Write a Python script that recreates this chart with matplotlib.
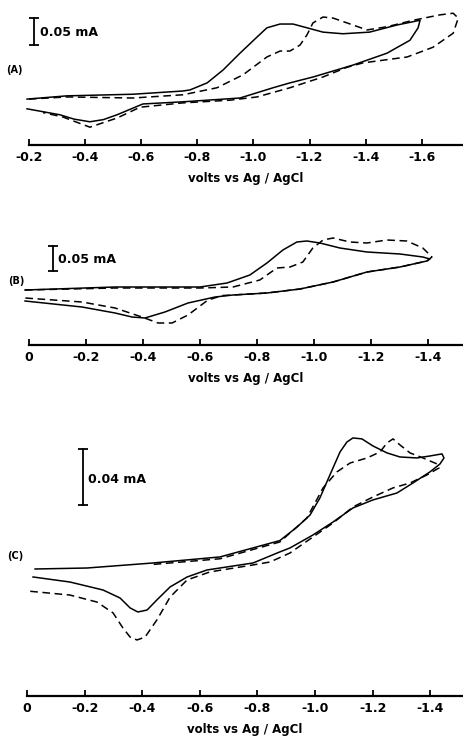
import numpy as np
import matplotlib
matplotlib.use("Agg")
import matplotlib.pyplot as plt

# ---- data (volts, mA above the axis line) ----
# panel A
a_solid_v = [-0.193, -0.335, -0.57, -0.749, -0.774, -0.835, -0.892, -0.952, -1.013, -1.048,
             -1.095, -1.141, -1.191, -1.248, -1.319, -1.414, -1.51, -1.594, -1.587, -1.558,
             -1.476, -1.355, -1.213, -1.13, -1.07, -0.952, -0.749, -0.606, -0.56, -0.514,
             -0.465, -0.417, -0.36, -0.31, -0.193]
a_solid_i = [0.085, 0.091, 0.094, 0.100, 0.102, 0.115, 0.139, 0.170, 0.200, 0.217,
             0.224, 0.224, 0.217, 0.209, 0.206, 0.209, 0.222, 0.231, 0.217, 0.194,
             0.170, 0.148, 0.126, 0.115, 0.106, 0.087, 0.080, 0.076, 0.066, 0.056,
             0.047, 0.043, 0.048, 0.056, 0.067]
a_dash_v = [-0.2, -0.335, -0.57, -0.749, -0.87, -0.963, -1.048, -1.095, -1.13, -1.166,
            -1.191, -1.212, -1.248, -1.284, -1.334, -1.405, -1.476, -1.57, -1.665, -1.712,
            -1.73, -1.712, -1.64, -1.548, -1.39, -1.334, -1.248, -1.13, -1.013, -0.917,
            -0.749, -0.596, -0.514, -0.417, -0.32, -0.25]
a_dash_i = [0.085, 0.089, 0.087, 0.093, 0.106, 0.130, 0.163, 0.174, 0.174, 0.185,
            0.204, 0.226, 0.237, 0.235, 0.226, 0.213, 0.219, 0.231, 0.241, 0.244,
            0.235, 0.207, 0.181, 0.163, 0.152, 0.144, 0.126, 0.106, 0.089, 0.083,
            0.078, 0.070, 0.050, 0.033, 0.052, 0.060]

# panel B
b_solid_v = [0.014, -0.302, -0.6, -0.695, -0.775, -0.835, -0.891, -0.94, -0.975, -1.021,
             -1.091, -1.186, -1.302, -1.382, -1.407, -1.396, -1.302, -1.186, -1.067, -0.951,
             -0.835, -0.716, -0.653, -0.558, -0.477, -0.407, -0.361, -0.302, -0.186, 0.014]
b_solid_i = [0.110, 0.116, 0.116, 0.124, 0.140, 0.164, 0.190, 0.206, 0.208, 0.204,
             0.194, 0.186, 0.182, 0.176, 0.172, 0.168, 0.156, 0.146, 0.126, 0.112,
             0.104, 0.100, 0.096, 0.084, 0.066, 0.054, 0.056, 0.064, 0.076, 0.088]
b_dash_v = [0.014, -0.302, -0.6, -0.716, -0.81, -0.87, -0.916, -0.961, -0.996, -1.032,
            -1.067, -1.126, -1.186, -1.256, -1.326, -1.382, -1.414, -1.396, -1.302, -1.186,
            -1.067, -0.951, -0.835, -0.716, -0.68, -0.628, -0.558, -0.502, -0.453, -0.396,
            -0.302, -0.186, 0.014]
b_dash_i = [0.110, 0.114, 0.114, 0.116, 0.130, 0.154, 0.156, 0.166, 0.194, 0.210,
            0.214, 0.206, 0.204, 0.210, 0.208, 0.194, 0.176, 0.168, 0.156, 0.146,
            0.126, 0.112, 0.104, 0.100, 0.099, 0.090, 0.060, 0.044, 0.044, 0.056,
            0.074, 0.086, 0.094]

# panel C
c_solid_v = [-0.028, -0.208, -0.438, -0.67, -0.878, -0.938, -0.983, -1.017, -1.052, -1.087,
             -1.111, -1.132, -1.163, -1.201, -1.25, -1.295, -1.354, -1.399, -1.441, -1.448,
             -1.434, -1.399, -1.34, -1.285, -1.201, -1.132, -1.063, -0.993, -0.913, -0.878,
             -0.785, -0.625, -0.556, -0.497, -0.451, -0.417, -0.385, -0.358, -0.323, -0.264,
             -0.149, -0.021]
c_solid_i = [0.0907, 0.0914, 0.0950, 0.0993, 0.1110, 0.1207, 0.1293, 0.1414, 0.1579, 0.1743,
             0.1814, 0.1843, 0.1836, 0.1786, 0.1736, 0.1707, 0.1700, 0.1714, 0.1729, 0.1700,
             0.1657, 0.1600, 0.1521, 0.1450, 0.1400, 0.1343, 0.1243, 0.1150, 0.1057, 0.1029,
             0.0950, 0.0900, 0.0850, 0.0779, 0.0686, 0.0614, 0.0600, 0.0629, 0.0700, 0.0757,
             0.0814, 0.0850]
c_dash_v = [-0.44, -0.67, -0.878, -0.972, -1.028, -1.076, -1.122, -1.181, -1.226, -1.25,
            -1.271, -1.295, -1.33, -1.375, -1.424, -1.431, -1.389, -1.33, -1.271, -1.201,
            -1.132, -1.063, -0.913, -0.844, -0.785, -0.635, -0.556, -0.497, -0.451, -0.41,
            -0.382, -0.358, -0.333, -0.299, -0.243, -0.149, 0.0]
c_dash_i = [0.0940, 0.0980, 0.1100, 0.1271, 0.1486, 0.1600, 0.1664, 0.1700, 0.1743, 0.1807,
            0.1836, 0.1793, 0.1736, 0.1700, 0.1657, 0.1629, 0.1579, 0.1521, 0.1486, 0.1421,
            0.1350, 0.1236, 0.1021, 0.0957, 0.0936, 0.0886, 0.0829, 0.0707, 0.0543, 0.0421,
            0.0400, 0.0421, 0.0486, 0.0593, 0.0671, 0.0721, 0.0750]

ticks_a = [-0.2, -0.4, -0.6, -0.8, -1.0, -1.2, -1.4, -1.6]
labels_a = ["-0.2", "-0.4", "-0.6", "-0.8", "-1.0", "-1.2", "-1.4", "-1.6"]
ticks_bc = [0, -0.2, -0.4, -0.6, -0.8, -1.0, -1.2, -1.4]
labels_bc = ["0", "-0.2", "-0.4", "-0.6", "-0.8", "-1.0", "-1.2", "-1.4"]

W, H = 463, 741
fig = plt.figure(figsize=(W / 100, H / 100), dpi=100)


def px_axes(left, right, top, bottom):
    return fig.add_axes([left / W, 1 - bottom / H, (right - left) / W, (bottom - top) / H])


def style(ax, ticks, labels):
    for s in ["top", "left", "right"]:
        ax.spines[s].set_visible(False)
    ax.spines["bottom"].set_linewidth(1.6)
    ax.set_yticks([])
    ax.set_xticks(ticks)
    ax.set_xticklabels(labels, fontsize=9, fontweight="bold")
    ax.tick_params(axis="x", direction="in", length=4, width=1.3, pad=4)
    ax.set_xlabel("volts vs Ag / AgCl", fontsize=8.5, fontweight="bold", labelpad=6)


def scalebar(ax, x, y0, y1, txt, tx, ty):
    ax.plot([x, x], [y0, y1], color="k", lw=1.3, clip_on=False)
    ax.plot([x, x], [y0, y1], color="k", lw=0, marker="_", ms=7, mew=1.3, clip_on=False)
    ax.text(tx, ty, txt, fontsize=9, fontweight="bold", va="center", ha="left")


dash = (0, (5, 3))

# (A)
axA = px_axes(29, 463, 0, 145)
axA.plot(a_solid_v, a_solid_i, color="k", lw=1.1, clip_on=False)
axA.plot(a_dash_v, a_dash_i, color="k", lw=1.1, ls=dash, clip_on=False)
axA.set_xlim(-0.2, -1.747)
axA.set_ylim(0, 0.2685)
style(axA, ticks_a, labels_a)
scalebar(axA, -0.218, 0.185, 0.235, "0.05 mA", -0.24, 0.209)
fig.text(6 / W, 1 - 70 / H, "(A)", fontsize=7, fontweight="bold", va="center")

# (B)
axB = px_axes(29, 463, 225, 345)
axB.plot(b_solid_v, b_solid_i, color="k", lw=1.1, clip_on=False)
axB.plot(b_dash_v, b_dash_i, color="k", lw=1.1, ls=dash, clip_on=False)
axB.set_xlim(0, -1.523)
axB.set_ylim(0, 0.24)
style(axB, ticks_bc, labels_bc)
scalebar(axB, -0.084, 0.148, 0.198, "0.05 mA", -0.102, 0.172)
fig.text(8 / W, 1 - 281 / H, "(B)", fontsize=7, fontweight="bold", va="center")

# (C)
axC = px_axes(27, 463, 420, 696)
axC.plot(c_solid_v, c_solid_i, color="k", lw=1.1, clip_on=False)
axC.plot(c_dash_v, c_dash_i, color="k", lw=1.1, ls=dash, clip_on=False)
axC.set_xlim(0, -1.514)
axC.set_ylim(0, 0.1971)
style(axC, ticks_bc, labels_bc)
scalebar(axC, -0.194, 0.1364, 0.1764, "0.04 mA", -0.212, 0.1543)
fig.text(7 / W, 1 - 556 / H, "(C)", fontsize=7, fontweight="bold", va="center")

fig.savefig("out.png", dpi=100)
